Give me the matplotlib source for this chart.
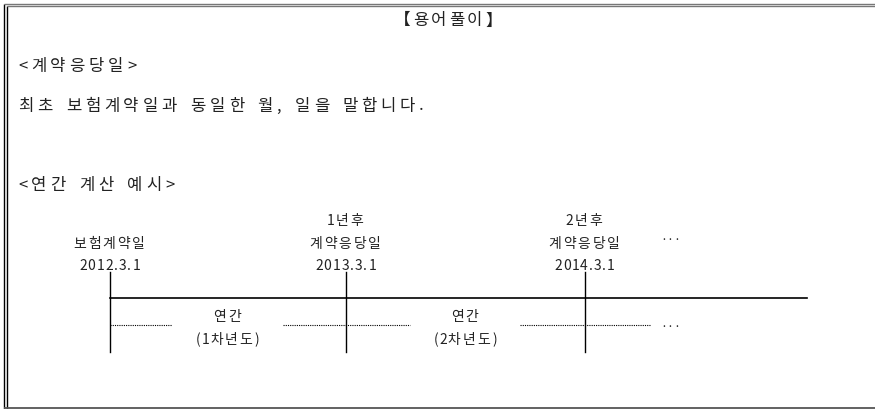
import matplotlib.pyplot as plt
from matplotlib.font_manager import FontProperties

plt.rcParams['font.family'] = ['Noto Sans CJK KR', 'DejaVu Sans']

# 텍스트 데이터
title = "【용어풀이】"
term = "<계약응당일>"
definition = "최초 보험계약일과 동일한 월, 일을 말합니다."
example_title = "<연간 계산 예시>"

# 타임라인 지점
point_top = ["", "1년후", "2년후"]
point_names = ["보험계약일", "계약응당일", "계약응당일"]
point_dates = ["2012.3.1", "2013.3.1", "2014.3.1"]
period_names = ["연간", "연간"]
period_years = ["(1차년도)", "(2차년도)"]

# 레이아웃 (픽셀 좌표)
W, H = 875, 410
point_x = [110, 346, 585]
line_end = 807
TEXT_COLOR = "#222222"

fig = plt.figure(figsize=(W / 100, H / 100), dpi=100)
ax = fig.add_axes([0, 0, 1, 1])
ax.set_xlim(0, W)
ax.set_ylim(H, 0)
ax.axis("off")
renderer = fig.canvas.get_renderer()


def spaced_text(x, y, s, size, track_wide, track_narrow, space, ha="left"):
    # 자간을 넓혀서 한 글자씩 배치 (굴림 느낌)
    prop = FontProperties(family=['Noto Sans CJK KR', 'DejaVu Sans'], size=size, weight="light")
    widths = []
    for ch in s:
        if ch == " ":
            widths.append(space)
            continue
        w, _, _ = renderer.get_text_width_height_descent(ch, prop, ismath=False)
        widths.append(w + (track_wide if ord(ch) >= 0x2E80 else track_narrow))
    total = sum(widths)
    if ha == "center":
        x = x - total / 2
    for ch, w in zip(s, widths):
        if ch != " ":
            ax.text(x, y, ch, ha="left", va="center", fontproperties=prop, color=TEXT_COLOR)
        x += w


# 테두리
ax.plot([4, 4], [4.5, H], color="black", lw=1, solid_capstyle="butt")
ax.plot([6.5, 6.5], [6.5, H], color="black", lw=1, solid_capstyle="butt")
ax.plot([4, W], [4.5, 4.5], color="#777777", lw=1, solid_capstyle="butt")
ax.plot([6.5, W], [6.5, 6.5], color="#777777", lw=1, solid_capstyle="butt")
ax.plot([4, W], [409, 409], color="#555555", lw=1.3, solid_capstyle="butt")

# 상단 텍스트
spaced_text(449, 21, title, 12, 2.7, 2.7, 9.5, ha="center")
spaced_text(18, 67, term, 12, 3.8, 3.8, 9.5)
spaced_text(18, 106, definition, 12, 3.8, 3.8, 9.5)
spaced_text(18, 186, example_title, 12, 3.8, 3.8, 9.5)

# 타임라인
ax.plot([point_x[0], line_end], [299, 299], color="black", lw=1.2)
for x, top, name, date in zip(point_x, point_top, point_names, point_dates):
    ax.plot([x, x], [273, 353], color="black", lw=1.0)
    if top:
        spaced_text(x, 221, top, 10, 2.0, 1.0, 7, ha="center")
    spaced_text(x, 244, name, 10, 2.0, 1.0, 7, ha="center")
    spaced_text(x, 266, date, 10, 2.0, 1.0, 7, ha="center")
ax.text(671, 241, "···", ha="center", va="center", fontsize=9, color=TEXT_COLOR)

# 점선 구간
dot_segments = [(110, 172), (283, 410), (520, 650)]
for x0, x1 in dot_segments:
    ax.plot([x0, x1], [326, 326], color="black", lw=0.8, ls=(0, (1, 1)))
ax.text(671, 328, "···", ha="center", va="center", fontsize=9, color=TEXT_COLOR)

for i, (name, yr) in enumerate(zip(period_names, period_years)):
    cx = (point_x[i] + point_x[i + 1]) / 2
    spaced_text(cx, 317, name, 10, 2.0, 1.0, 7, ha="center")
    spaced_text(cx, 340, yr, 10, 2.0, 1.0, 7, ha="center")

fig.savefig("out.png", dpi=100)
